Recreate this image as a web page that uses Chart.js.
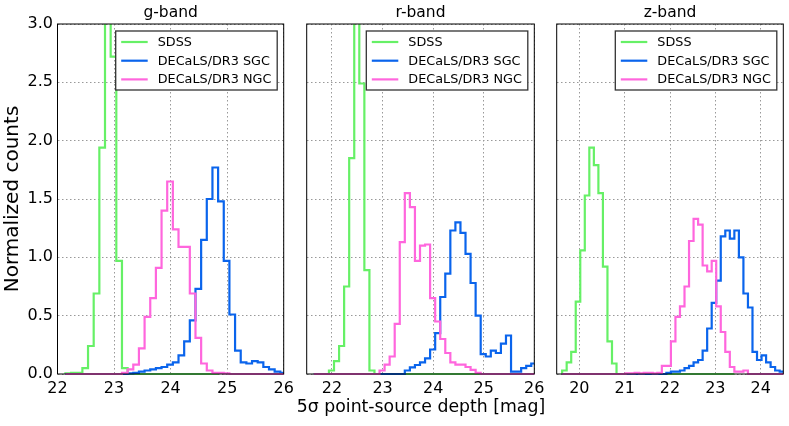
<!DOCTYPE html>
<html>
<head>
<meta charset="utf-8">
<script src="https://cdn.jsdelivr.net/npm/chart.js"></script>
<style>
  body { margin: 0; background: #fff; }
  #wrap { position: relative; width: 789px; height: 426px; overflow: hidden; }
  canvas { position: absolute; top: 0; }
</style>
</head>
<body>
<div id="wrap">
  <canvas id="gChart" width="300" height="426" style="left:0px"></canvas>
  <canvas id="rChart" width="285" height="426" style="left:280px"></canvas>
  <canvas id="zChart" width="244" height="426" style="left:545px"></canvas>
</div>

<script>
  // ---- data (normalized histogram heights, bin width 0.1 mag) ----
  const bandTitles = ['g-band', 'r-band', 'z-band'];
  const xLabel = '5σ point-source depth [mag]';
  const xMin = [22, 21.5, 19.5];
  const xMax = [26, 26, 24.5];
  const xTicks = [[22, 23, 24, 25, 26], [22, 23, 24, 25, 26], [20, 21, 22, 23, 24]];
  const yTicks = [0, 0.5, 1, 1.5, 2, 2.5, 3];
  const binWidth = 0.1;

  const seriesLabels = ['SDSS', 'DECaLS/DR3 SGC', 'DECaLS/DR3 NGC'];
  const seriesColors = ['#66f066', '#0a64ec', '#ff66dd'];

  // first bin edge of each histogram, per band (g, r, z)
  const sdssStart = [22.14, 21.94, 19.62];
  const sgcStart = [23.24, 23.44, 21.92];
  const ngcStart = [23.14, 22.94, 21.02];

  // range each histogram outline runs along the baseline
  const sdssSpan = [[22.14, 24.84], [21.64, 24.94], [19.62, 23.42]];
  const sgcSpan = [[22.14, 26.04], [21.64, 26.04], [19.62, 24.52]];
  const ngcSpan = [[22.14, 26.04], [21.64, 26.04], [19.62, 24.52]];

  const sdssG = [0.005, 0.01, 0.01, 0.05, 0.24, 0.69, 1.94, 3.3, 2.72, 0.97, 0.05];
  const sgcG = [0.005, 0.01, 0.02, 0.03, 0.04, 0.05, 0.06, 0.08, 0.10, 0.16, 0.28, 0.46, 0.73, 1.15,
                1.50, 1.77, 1.48, 0.97, 0.51, 0.20, 0.10, 0.09, 0.11, 0.10, 0.06, 0.04, 0.02, 0.01];
  const ngcG = [0.01, 0.04, 0.08, 0.22, 0.49, 0.65, 0.91, 1.40, 1.65, 1.24, 1.09, 1.09, 0.69, 0.31,
                0.09, 0.03, 0.01, 0.01, 0.005];

  const sdssR = [0.03, 0.11, 0.24, 0.75, 1.85, 3.6, 2.49, 0.89, 0.03];
  const sgcR = [0.03, 0.057, 0.077, 0.10, 0.134, 0.21, 0.35, 0.66, 0.86, 1.23, 1.30, 1.21, 1.03,
                0.78, 0.50, 0.17, 0.15, 0.20, 0.18, 0.26, 0.33, 0.02, 0.02, 0.05, 0.07, 0.09];
  const ngcR = [0.03, 0.08, 0.15, 0.43, 1.13, 1.55, 1.43, 0.97, 1.10, 1.11, 0.65, 0.45, 0.30, 0.18,
                0.10, 0.08, 0.08, 0.06, 0.035, 0.01];

  const sdssZ = [0.03, 0.10, 0.19, 0.62, 1.06, 1.53, 1.94, 1.79, 1.55, 0.92, 0.28, 0.09];
  const sgcZ = [0.01, 0.02, 0.02, 0.03, 0.05, 0.07, 0.10, 0.12, 0.20, 0.39, 0.61, 0.80, 1.18,
                1.23, 1.16, 1.23, 1.00, 0.69, 0.57, 0.19, 0.12, 0.16, 0.10, 0.06, 0.03, 0.02];
  const ngcZ = [0.005, 0.005, 0.01, 0.005, 0.01, 0.01, 0.005, 0.01, 0.07, 0.07, 0.28, 0.49, 0.58,
                0.75, 1.14, 1.33, 1.28, 0.93, 0.88, 0.97, 0.58, 0.36, 0.19, 0.06, 0.02, 0.02, 0.03];

  const sdssCounts = [sdssG, sdssR, sdssZ];
  const sgcCounts = [sgcG, sgcR, sgcZ];
  const ngcCounts = [ngcG, ngcR, ngcZ];

  Chart.defaults.font.family = 'DejaVu Sans';
  Chart.defaults.color = '#000';

  // step outline like matplotlib histtype='step'
  function histPoints(start, counts, span) {
    const pts = [{ x: span[0], y: 0 }];
    counts.forEach((c, i) => pts.push({ x: start + i * binWidth, y: c }));
    pts.push({ x: start + counts.length * binWidth, y: 0 });
    pts.push({ x: span[1], y: 0 });
    return pts;
  }

  // axes frame, legend box inside the plot area, and the shared x label
  const frameAndLegend = {
    id: 'frameAndLegend',
    afterDatasetsDraw(chart, args, opts) {
      const { ctx, chartArea: a } = chart;
      ctx.save();
      ctx.strokeStyle = '#000';
      ctx.lineWidth = 1;
      ctx.strokeRect(a.left, a.top, a.right - a.left, a.bottom - a.top);

      const w = 161.5, h = 59;
      const x = a.right - 6.5 - w, y = a.top + 7;
      ctx.fillStyle = '#fff';
      ctx.fillRect(x, y, w, h);
      ctx.strokeStyle = '#333';
      ctx.lineWidth = 1.3;
      ctx.strokeRect(x, y, w, h);

      ctx.font = '12.8px "DejaVu Sans"';
      ctx.textBaseline = 'middle';
      seriesLabels.forEach((lab, i) => {
        const ly = y + 11 + i * 18.7;
        ctx.strokeStyle = seriesColors[i];
        ctx.lineWidth = 2.2;
        ctx.beginPath();
        ctx.moveTo(x + 5.5, ly);
        ctx.lineTo(x + 32, ly);
        ctx.stroke();
        ctx.fillStyle = '#000';
        ctx.fillText(lab, x + 42, ly + 0.5);
      });

      if (opts.xLabel) {
        ctx.font = '17.3px "DejaVu Sans"';
        ctx.textAlign = 'center';
        ctx.fillStyle = '#000';
        ctx.fillText(opts.xLabel, (a.left + a.right) / 2 + 0.5, 408);
      }
      ctx.restore();
    }
  };

  function makePanel(canvasId, b, pad, first, middle) {
    const ds = (label, color, start, counts, span) => ({
      label: label,
      data: histPoints(start, counts, span),
      borderColor: color,
      borderWidth: 2.2,
      stepped: 'before',
      pointRadius: 0,
      fill: false,
      clip: { left: 0, top: 0, right: 0, bottom: 2 }
    });

    new Chart(document.getElementById(canvasId), {
      type: 'line',
      data: {
        // first dataset is drawn on top
        datasets: [
          ds(seriesLabels[2], seriesColors[2], ngcStart[b], ngcCounts[b], ngcSpan[b]),
          ds(seriesLabels[1], seriesColors[1], sgcStart[b], sgcCounts[b], sgcSpan[b]),
          ds(seriesLabels[0], seriesColors[0], sdssStart[b], sdssCounts[b], sdssSpan[b])
        ]
      },
      options: {
        responsive: false,
        animation: false,
        layout: { padding: { left: pad[0], right: pad[1], top: 0, bottom: 0 } },
        plugins: {
          legend: { display: false },
          tooltip: { enabled: false },
          frameAndLegend: { xLabel: middle ? xLabel : '' },
          title: {
            display: true,
            text: bandTitles[b],
            fullSize: false,
            font: { size: 15.5, weight: 'normal' },
            padding: { top: 4, bottom: 1.4 }
          }
        },
        scales: {
          x: {
            type: 'linear',
            min: xMin[b],
            max: xMax[b],
            afterBuildTicks(s) { s.ticks = xTicks[b].map(v => ({ value: v })); },
            ticks: { autoSkip: false, maxRotation: 0, font: { size: 16 }, padding: 5.5 },
            grid: { color: '#999', lineWidth: 1, drawTicks: false },
            border: { display: false, dash: [1.5, 2.5] },
            afterFit(s) { s.height = 52; s.paddingLeft = 0; s.paddingRight = 0; }
          },
          y: {
            type: 'linear',
            min: 0,
            max: 3,
            afterBuildTicks(s) { s.ticks = yTicks.map(v => ({ value: v })); },
            ticks: { display: first, font: { size: 16 }, padding: 4.5,
                     callback: v => v.toFixed(1) },
            grid: { color: '#999', lineWidth: 1, drawTicks: false },
            border: { display: false, dash: [1.5, 2.5] },
            title: { display: first, text: 'Normalized counts',
                     font: { size: 20 }, padding: { top: 1 } },
            afterFit(s) { s.width = first ? 57.5 : 0; s.paddingTop = 0; s.paddingBottom = 0; }
          }
        }
      },
      plugins: [frameAndLegend]
    });
  }

  makePanel('gChart', 0, [0, 16.3], true, false);
  makePanel('rChart', 1, [26.7, 30.7], false, true);
  makePanel('zChart', 2, [11.7, 5.7], false, false);
</script>
</body>
</html>
